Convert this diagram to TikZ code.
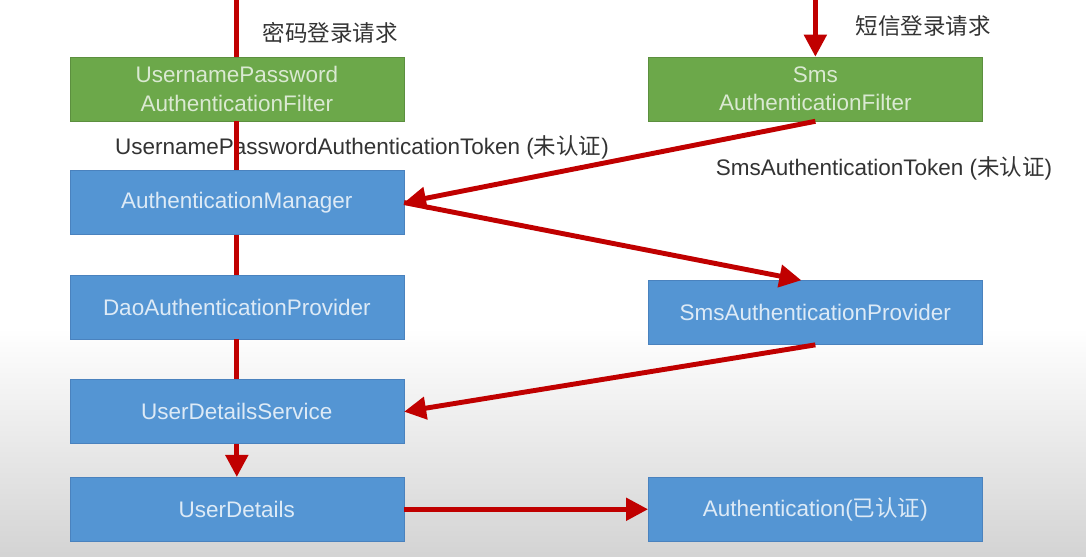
\documentclass[tikz,border=0pt]{standalone}
\usepackage{fontspec}
\setmainfont{Liberation Sans}
\newfontfamily\cjk{Noto Sans CJK SC}
\usetikzlibrary{arrows.meta,positioning}
\definecolor{filtergreen}{HTML}{6CA84A}
\definecolor{boxblue}{HTML}{5495D3}
\definecolor{boxedge}{HTML}{4A82BE}
\definecolor{flowred}{HTML}{C00000}
\definecolor{ink}{HTML}{333333}

\begin{document}
\begin{tikzpicture}[
  node distance=1.0cm and 6.1cm,
  filterbox/.style={draw=filtergreen!85!black, fill=filtergreen, text=white!75!filtergreen,
    minimum width=8.35cm, minimum height=1.6cm, align=center, font=\fontsize{16}{20}\selectfont},
  bluebox/.style={draw=boxedge, fill=boxblue, text=white!80!boxblue,
    minimum width=8.35cm, minimum height=1.6cm, align=center, font=\fontsize{16}{20}\selectfont},
  flow/.style={line width=3.5pt, draw=flowred},
  flowarrow/.style={flow, -{Triangle[length=5.5mm,width=5.5mm]}},
  note/.style={font=\fontsize{16}{19}\selectfont, text=ink}
]
% page and screen shading
\useasboundingbox (0,0) rectangle (27.15,-13.9);
\fill[white] (0,0) rectangle (27.15,-13.9);
\shade[top color=white, bottom color=black!17] (0,-8.2) rectangle (27.15,-13.9);

% left column
\node[filterbox] (upaf) at (5.92,-2.225) {UsernamePassword\\AuthenticationFilter};
\node[bluebox, below=1.225cm of upaf] (authmgr) {AuthenticationManager};
\node[bluebox, below=of authmgr] (daoprov) {DaoAuthenticationProvider};
\node[bluebox, below=of daoprov] (udservice) {UserDetailsService};
\node[bluebox, below=0.825cm of udservice] (userdetails) {UserDetails};

% right column
\node[filterbox, right=of upaf] (smsaf) {Sms\\AuthenticationFilter};
\node[bluebox, below=3.975cm of smsaf] (smsprov) {SmsAuthenticationProvider};
\node[bluebox, right=of userdetails] (authdone) {Authentication({\cjk 已认证})};

\coordinate (pwdtop) at (upaf.north |- 0,0);
\coordinate (smstop) at (smsaf.north |- 0,0);

% labels
\node[note, anchor=west] (pwdreq) at (6.45,-0.825) {\cjk 密码登录请求};
\node[note, anchor=west] (smsreq) at (21.275,-0.65) {\cjk 短信登录请求};
\node[note] (pwdtoken) at (9.05,-3.675) {UsernamePasswordAuthenticationToken ({\cjk 未认证})};
\node[note] (smstoken) at (22.1,-4.2) {SmsAuthenticationToken ({\cjk 未认证})};

% password flow
\draw[flow] (pwdtop) -- (upaf.north);
\draw[flow] (upaf) -- (authmgr);
\draw[flow] (authmgr) -- (daoprov);
\draw[flow] (daoprov) -- (udservice);
\draw[flowarrow] (udservice) -- (userdetails);

% sms flow
\draw[flowarrow] (smstop) -- (smsaf.north);
\draw[flowarrow] (smsaf.south) -- (authmgr.east);
\draw[flowarrow] (authmgr.east) -- ([xshift=-0.35cm]smsprov.north);
\draw[flowarrow] (smsprov.south) -- (udservice.east);
\draw[flowarrow] (userdetails) -- (authdone);
\end{tikzpicture}
\end{document}
